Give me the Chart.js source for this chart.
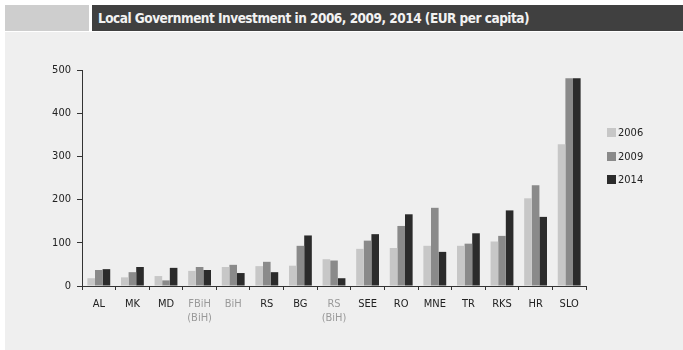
<!DOCTYPE html>
<html>
<head>
<meta charset="utf-8">
<script src="https://cdn.jsdelivr.net/npm/chart.js@4/dist/chart.umd.min.js"></script>
<style>
  html, body { margin: 0; padding: 0; background: #fff; }
  body { width: 683px; height: 350px; position: relative; overflow: hidden; font-family: 'Liberation Sans Narrow', 'DejaVu Sans Condensed', sans-serif; }
  .tab { position: absolute; left: 5px; top: 5px; width: 84px; height: 26px; background: #cecece; }
  .bar { position: absolute; left: 92px; top: 5px; right: 0; height: 26px; background: #404040; color: #f2f2f2;
         font-weight: bold; font-size: 13.5px; letter-spacing: -0.5px; line-height: 26px; padding-left: 6px; }
  .panel { position: absolute; left: 5px; top: 32px; width: 678px; height: 318px; background: #efefef; }
  .legend { position: absolute; left: 607px; top: 121px; font-size: 11px; color: #222; }
  .legend div { height: 23.5px; display: flex; align-items: center; }
  .legend span { display: inline-block; width: 9px; height: 9px; margin-right: 2px; }
</style>
</head>
<body>
<div class="tab"></div>
<div class="bar">Local Government Investment in 2006, 2009, 2014 (EUR per capita)</div>
<div class="panel"><canvas id="chart" width="678" height="318"></canvas></div>
<div class="legend" id="legend"></div>
<script>
const categories = ['AL', 'MK', 'MD', ['FBiH', '(BiH)'], 'BiH', 'RS', 'BG', ['RS', '(BiH)'], 'SEE', 'RO', 'MNE', 'TR', 'RKS', 'HR', 'SLO'];
const labelColors = ['#222', '#222', '#222', '#9a9a9a', '#9a9a9a', '#222', '#222', '#9a9a9a', '#222', '#222', '#222', '#222', '#222', '#222', '#222'];
const years = ['2006', '2009', '2014'];
const v2006 = [18, 20, 23, 35, 44, 46, 47, 62, 86, 88, 93, 93, 103, 203, 328];
const v2009 = [37, 32, 13, 44, 49, 56, 93, 59, 105, 139, 181, 98, 116, 233, 481];
const v2014 = [39, 44, 42, 37, 30, 32, 117, 18, 120, 166, 79, 122, 175, 160, 481];
const yTicks = [0, 100, 200, 300, 400, 500];
const colors = ['#c7c7c7', '#8a8a8a', '#2b2b2b'];

const series = [v2006, v2009, v2014];
const FONT = "'Liberation Sans Narrow', 'DejaVu Sans Condensed', sans-serif";

new Chart(document.getElementById('chart'), {
  type: 'bar',
  data: {
    labels: categories,
    datasets: series.map((d, i) => ({
      label: years[i], data: d, backgroundColor: colors[i],
      categoryPercentage: 0.68, barPercentage: 1.0, borderWidth: 0
    }))
  },
  options: {
    responsive: false,
    animation: false,
    layout: { padding: { left: 0, top: 38, right: 97, bottom: 0 } },
    plugins: { legend: { display: false }, tooltip: { enabled: false } },
    scales: {
      x: {
        grid: { display: true, drawOnChartArea: false, drawTicks: true, tickLength: 4, color: '#333', offset: true },
        border: { display: true, color: '#333', width: 1 },
        ticks: {
          font: { family: FONT, size: 11 }, padding: 8, maxRotation: 0, autoSkip: false,
          color: ctx => labelColors[ctx.index]
        },
        afterFit: s => { s.height = 64; }
      },
      y: {
        min: 0, max: 500,
        afterBuildTicks: s => { s.ticks = yTicks.map(v => ({ value: v })); },
        grid: { display: true, drawOnChartArea: false, drawTicks: true, tickLength: 5, color: '#333' },
        border: { display: true, color: '#333', width: 1 },
        ticks: { font: { family: FONT, size: 11 }, color: '#222', padding: 6 },
        afterFit: s => { s.width = 77; }
      }
    }
  }
});

document.getElementById('legend').innerHTML = years.map((y, i) =>
  `<div><span style="background:${colors[i]}"></span>${y}</div>`).join('');
</script>
</body>
</html>
